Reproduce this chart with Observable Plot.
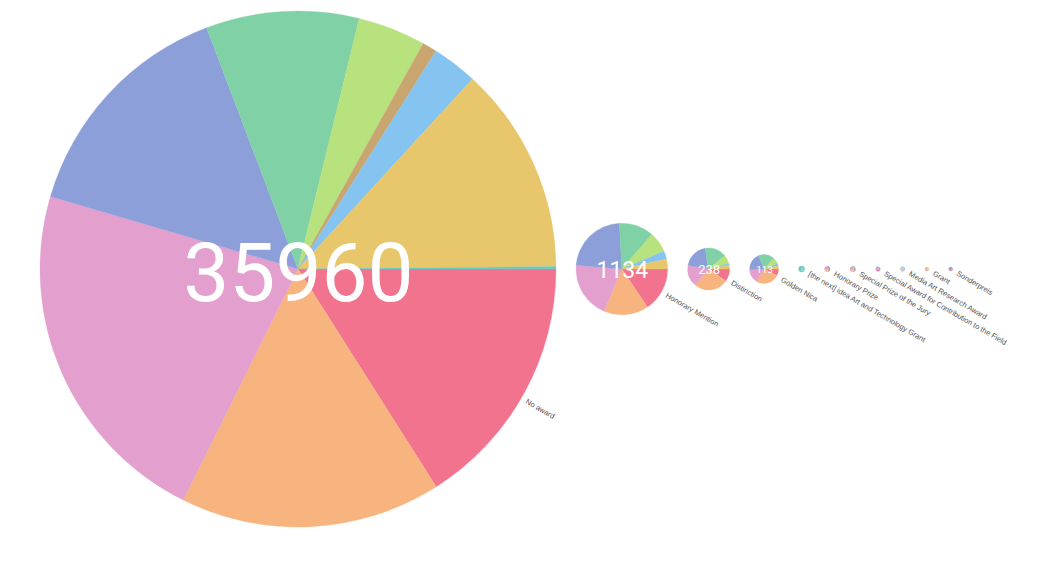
<!DOCTYPE html>
<html>
<head>
<meta charset="utf-8">
<script src="https://cdn.jsdelivr.net/npm/d3@7"></script>
<script src="https://cdn.jsdelivr.net/npm/@observablehq/plot@0.6"></script>
<style>
  html, body { margin: 0; padding: 0; background: #ffffff; }
  #chart svg { display: block; }
</style>
</head>
<body>
<div id="chart"></div>
<script>
// ---- data ----
const awards = [
  "No award",
  "Honorary Mention",
  "Distinction",
  "Golden Nica",
  "[the next] idea Art and Technology Grant",
  "Honorary Prize",
  "Special Prize of the Jury",
  "Special Award for Contribution to the Field",
  "Media Art Research Award",
  "Grant",
  "Sonderpreis"
];

const categories = [
  "Computer Animation", "Digital Musics", "Interactive Art", "u19",
  "Net Vision", "Digital Communities", "Computer Graphics", "Hybrid Art",
  "Visionary Pioneers", "[the next] idea"
];

const palette = [
  "#f2738d", "#f7b47f", "#e3a0cf", "#8c9fd8",
  "#80d2a6", "#b7e27e", "#c9a570", "#85c3f0",
  "#e8c76c", "#6ccac4"
];

// counts per category (same order as categories)
const noAward         = [5754, 5874, 7985, 5284, 3446, 1528, 330, 1019, 4685, 55];
const honoraryMention = [176, 179, 227, 259, 139, 82, 0, 32, 40, 0];
const distinction     = [23, 63, 40, 46, 40, 16, 0, 3, 7, 0];
const goldenNica      = [8, 30, 18, 22, 20, 8, 0, 3, 4, 0];
const ideaGrant       = [0, 0, 0, 0, 0, 0, 0, 0, 0, 5];
const honoraryPrize   = [1, 1, 1, 1, 0, 0, 0, 0, 0, 0];
const specialPrize    = [1, 1, 1, 0, 1, 0, 0, 0, 0, 0];
const contribution    = [1, 0, 1, 1, 0, 0, 0, 0, 0, 0];
const researchAward   = [0, 0, 1, 0, 0, 1, 0, 1, 0, 0];
const grant           = [0, 0, 1, 0, 0, 0, 0, 0, 1, 0];
const sonderpreis     = [1, 0, 0, 1, 0, 0, 0, 0, 0, 0];

const awardCounts = [noAward, honoraryMention, distinction, goldenNica, ideaGrant,
  honoraryPrize, specialPrize, contribution, researchAward, grant, sonderpreis];

// ---- layout ----
const W = 1064, H = 565;
const CY = 269, LEFT = 40, GAP = 20, RMAX = 258;
const totals = awardCounts.map(a => d3.sum(a));
const rScale = Plot.scale({r: {type: "sqrt", domain: [0, d3.max(totals)], range: [0, RMAX]}});

let cursor = LEFT;
const pies = awards.map((award, i) => {
  const r = rScale.apply(totals[i]);
  const cx = cursor + r;
  cursor = cx + r + GAP;
  return {award, total: totals[i], r, cx, cy: CY};
});

const slices = [];
pies.forEach((p, i) => {
  const rows = categories.map((c, j) => ({category: c, value: awardCounts[i][j]}));
  const arcs = d3.pie().sort(null).value(d => d.value)
    .startAngle(Math.PI / 2).endAngle(Math.PI / 2 + 2 * Math.PI)(rows);
  arcs.forEach(a => {
    if (a.data.value > 0) slices.push({
      award: p.award, category: a.data.category, value: a.data.value,
      total: p.total, cx: p.cx, cy: p.cy,
      startAngle: a.startAngle, endAngle: a.endAngle
    });
  });
});

const ang = 30 * Math.PI / 180;
const numSize = d => 82 * Math.pow(d.r / RMAX, 0.735);

const chart = Plot.plot({
  width: W,
  height: H,
  margin: 0,
  x: {type: "identity", axis: null},
  y: {type: "identity", axis: null},
  r: {type: "sqrt", domain: [0, d3.max(totals)], range: [0, RMAX]},
  color: {domain: categories, range: palette},
  marks: [
    Plot.dot(slices, {
      x: "cx", y: "cy", r: "total", fill: "category",
      render(index, scales, values) {
        const g = d3.create("svg:g");
        const arc = d3.arc();
        for (const i of index) {
          const s = slices[i];
          g.append("path")
            .attr("transform", `translate(${values.x[i]},${values.y[i]})`)
            .attr("d", arc({innerRadius: 0, outerRadius: values.r[i], startAngle: s.startAngle, endAngle: s.endAngle}))
            .attr("fill", values.fill[i])
            .attr("stroke", values.fill[i])
            .attr("stroke-width", 0.3);
        }
        return g.node();
      }
    }),
    Plot.text(pies, {
      x: "cx",
      y: d => d.cy + 0.06 * numSize(d),
      text: d => String(d.total),
      fontSize: numSize,
      fontFamily: "Roboto, 'Liberation Sans', sans-serif",
      fill: "white",
      textAnchor: "middle",
      lineAnchor: "middle"
    }),
    Plot.text(pies, {
      x: d => d.cx + (d.r + 5) * Math.cos(ang),
      y: d => d.cy + (d.r + 5) * Math.sin(ang),
      text: "award",
      rotate: 30,
      textAnchor: "start",
      lineAnchor: "middle",
      fontSize: 7.5,
      fontFamily: "'Liberation Sans', Arial, sans-serif",
      fill: "#555"
    })
  ]
});

document.getElementById("chart").appendChild(chart);
</script>
</body>
</html>
